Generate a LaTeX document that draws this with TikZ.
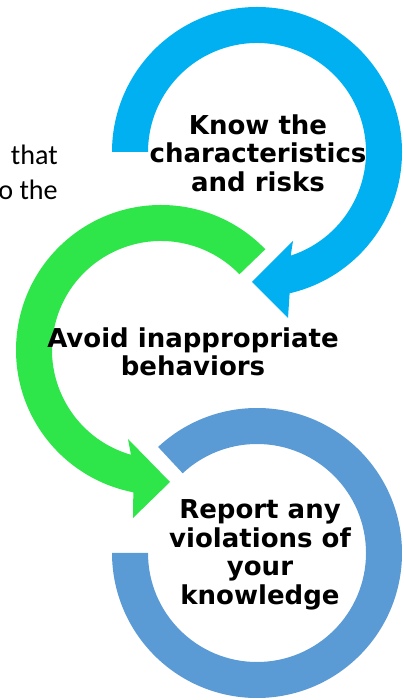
\documentclass[tikz,border=0pt]{standalone}
\usepackage{fontspec}
\usepackage{xcolor}
\usepackage{tikz}
\usetikzlibrary{calc}
\newfontfamily\stepfont{DejaVu Sans}
\newfontfamily\bodyfont{Carlito}
\definecolor{ringtop}{HTML}{00B0F0}
\definecolor{ringmid}{HTML}{2EE64A}
\definecolor{ringlow}{HTML}{5B9BD5}

\begin{document}
\begin{tikzpicture}[
    steptext/.style={align=center, font=\stepfont\bfseries\fontsize{18.5}{20.3}\selectfont},
    sidetext/.style={anchor=base east, inner sep=0pt, font=\bodyfont\fontsize{20}{24}\selectfont}]
    \useasboundingbox (0,0) rectangle (10.075,17.5);
    \coordinate (c1) at (6.425,13.7);
    \coordinate (c2) at (4.025,8.75);
    \coordinate (c3) at (6.425,3.675);

    % top ring, clockwise, head pointing down-left
    \fill[ringtop] ($(c1)+(180:3.625)$) arc[start angle=180,end angle=-77,radius=3.625]
        -- (7.2,9.55) -- (6.3,10.45) -- (7.325,11.475)
        -- ($(c1)+(-72:2.725)$) arc[start angle=-72,end angle=180,radius=2.725] -- cycle;

    % middle ring, counterclockwise, head pointing right
    \fill[ringmid] ($(c2)+(44:3.625)$) arc[start angle=44,end angle=259,radius=3.625]
        -- (3.325,4.55) -- (4.25,5.45) -- (3.2,6.525)
        -- ($(c2)+(254:2.725)$) arc[start angle=254,end angle=44,radius=2.725] -- cycle;

    % bottom ring, no head
    \fill[ringlow] ($(c3)+(133:3.625)$) arc[start angle=133,end angle=-180,radius=3.625]
        -- ($(c3)+(180:2.725)$) arc[start angle=-180,end angle=133,radius=2.725] -- cycle;

    \node[steptext] (know) at (6.45,13.675) {Know the\\characteristics\\and risks};
    \node[steptext] (avoid) at (4.825,8.7) {Avoid inappropriate\\behaviors};
    \node[steptext] (report) at (6.5,3.625) {Report any\\violations of\\your\\knowledge};

    \node[sidetext] (that) at (1.45,13.375) {that};
    \node[sidetext] (othe) at (1.45,12.5) {o the};
\end{tikzpicture}
\end{document}
